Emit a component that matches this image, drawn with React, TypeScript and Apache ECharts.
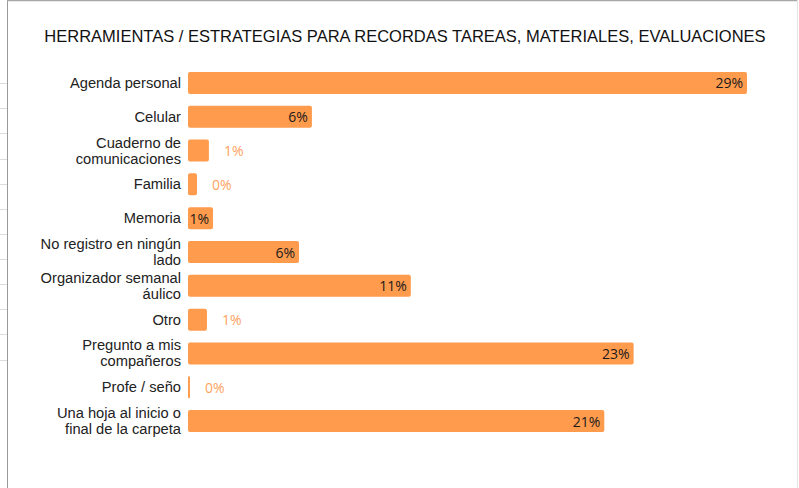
import React, { useEffect, useRef } from "react";
import * as echarts from "echarts";

const titleText = "HERRAMIENTAS / ESTRATEGIAS PARA RECORDAS TAREAS, MATERIALES, EVALUACIONES";

const categories = [
  "Agenda personal",
  "Celular",
  "Cuaderno de\ncomunicaciones",
  "Familia",
  "Memoria",
  "No registro en ningún\nlado",
  "Organizador semanal\náulico",
  "Otro",
  "Pregunto a mis\ncompañeros",
  "Profe / seño",
  "Una hoja al inicio o\nfinal de la carpeta",
];

const values = [28.6, 6.34, 1.07, 0.46, 1.28, 5.68, 11.4, 0.97, 22.8, 0.1, 21.3];

const BAR = "#FF9B4D";

export default function App() {
  const ref = useRef<HTMLDivElement>(null);
  useEffect(() => {
    if (!ref.current) return;
    const chart = echarts.init(ref.current, null, { renderer: "svg" });
    const gridLinesY = [83, 108, 133, 159, 184, 209, 234, 259, 284, 309, 334, 360];
    const graphic: any[] = [
      { type: "rect", shape: { x: 0, y: 0, width: 799, height: 488 }, style: { fill: "#fff" }, z: -10 },
      ...gridLinesY.map((y) => ({
        type: "line",
        shape: { x1: 0, y1: y + 0.5, x2: 7, y2: y + 0.5 },
        style: { stroke: "#dcdcdc", lineWidth: 1 },
      })),
      { type: "line", shape: { x1: 7.5, y1: 0, x2: 7.5, y2: 488 }, style: { stroke: "#9a9a9a", lineWidth: 1 } },
      { type: "line", shape: { x1: 7, y1: 0.5, x2: 797, y2: 0.5 }, style: { stroke: "#a8a8a8", lineWidth: 1.5 } },
      { type: "line", shape: { x1: 797.5, y1: 0, x2: 797.5, y2: 488 }, style: { stroke: "#e4e4e4", lineWidth: 1 } },
    ];
    chart.setOption({
      animation: false,
      backgroundColor: "#fff",
      title: {
        text: titleText,
        left: 400,
        textAlign: "center",
        top: 22,
        textStyle: { fontFamily: "Liberation Sans", fontSize: 16.5, fontWeight: "normal", color: "#111" },
      },
      graphic,
      grid: { left: 188, top: 66, width: 559, height: 372, containLabel: false },
      xAxis: {
        type: "value",
        min: 0,
        max: values[0],
        show: false,
      },
      yAxis: {
        type: "category",
        data: categories,
        inverse: true,
        axisLine: { show: false },
        axisTick: { show: false },
        splitLine: { show: false },
        axisLabel: {
          fontFamily: "Liberation Sans",
          fontSize: 14.7,
          color: "#222",
          lineHeight: 16,
          margin: 7,
          align: "right",
        },
      },
      series: [
        {
          type: "bar",
          barWidth: 22,
          itemStyle: { color: BAR, borderRadius: 2 },
          data: values.map((v) => {
            const inside = v >= 1.2;
            return {
              value: v,
              label: inside
                ? { show: true, position: "insideRight", distance: 4, color: "#1a1a1a" }
                : { show: true, position: "right", distance: 15, color: "#FFA262" },
            };
          }),
          label: {
            fontFamily: "Open Sans",
            fontSize: 14,
            formatter: (p: any) => Math.round(p.value) + "%",
          },
        },
      ],
    });
    return () => chart.dispose();
  }, []);
  return (
    <div
      ref={ref}
      style={{ position: "fixed", left: 0, top: 0, width: 799, height: 488, background: "#fff" }}
    />
  );
}
